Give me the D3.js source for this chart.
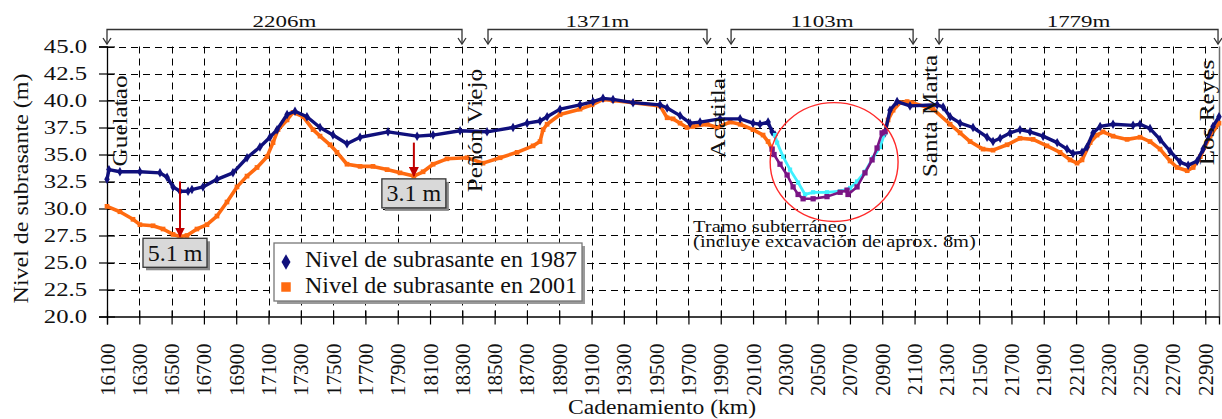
<!DOCTYPE html>
<html>
<head>
<meta charset="utf-8">
<script src="https://cdn.jsdelivr.net/npm/d3@7"></script>
<style>
  body { margin: 0; background: #fff; }
  svg { display: block; }
  text { font-family: "Liberation Serif", "Times New Roman", serif; fill: #111; }
</style>
</head>
<body>
<svg id="chart" width="1222" height="419" font-family="Liberation Serif, serif"></svg>
<script>
// ---- Nivel de subrasante, 1987 (segmentos a cielo abierto) [cadenamiento m, nivel m]
const nivel1987Oeste = [
  [16100,32.7],[16112,33.6],[16180,33.4],[16304,33.4],[16428,33.3],[16472,32.9],[16509,32.0],
  [16552,31.6],[16602,31.6],[16626,31.75],[16694,32.0],[16781,32.7],[16880,33.3],[16967,34.7],
  [17047,35.7],[17109,36.6],[17153,37.3],[17215,38.7],[17264,39.0],[17338,38.5],[17419,37.5],
  [17499,36.8],[17586,36.0],[17667,36.6],[17840,37.1],[18020,36.7],[18119,36.8],[18286,37.2],
  [18453,37.1],[18614,37.5],[18701,37.9],[18781,38.1],[18825,38.5],[18905,39.2],[19029,39.6],
  [19109,39.9],[19171,40.2],[19233,40.1],[19357,39.8],[19524,39.6],[19568,39.3],[19648,38.6],
  [19710,37.9],[19772,38.0],[19896,38.3],[20020,38.3],[20100,37.9],[20143,37.8],[20193,38.0],
  [20218,37.1],[20236,36.8]
];
const nivel1987Este = [
  [20917,37.0],[20948,39.1],[20992,39.9],[21072,39.5],[21240,39.6],[21277,39.4],[21320,38.5],
  [21382,37.9],[21462,37.5],[21549,36.6],[21586,36.2],[21630,36.5],[21691,37.0],[21753,37.3],
  [21815,37.1],[21896,36.7],[21983,36.1],[22044,35.5],[22081,35.1],[22137,35.2],[22168,35.7],
  [22205,37.0],[22249,37.6],[22329,37.8],[22453,37.7],[22496,37.8],[22558,37.4],[22620,36.4],
  [22682,35.3],[22744,34.3],[22794,34.0],[22850,34.4],[22887,35.5],[22948,37.6],[22985,38.5]
];
// ---- Nivel de subrasante, 2001
const nivel2001Oeste = [
  [16100,30.2],[16180,29.7],[16261,29.0],[16304,28.5],[16385,28.4],[16447,28.1],[16509,27.6],
  [16552,27.4],[16595,27.5],[16657,28.1],[16719,28.5],[16781,29.3],[16843,30.6],[16905,32.0],
  [16967,33.0],[17029,33.8],[17091,34.8],[17128,36.1],[17159,37.3],[17215,38.2],[17252,38.9],
  [17314,38.5],[17376,37.3],[17419,36.7],[17481,35.9],[17524,35.2],[17586,34.1],[17667,33.9],
  [17747,33.9],[17834,33.6],[17914,33.3],[18000,33.0],[18057,33.4],[18119,34.1],[18205,34.6],
  [18329,34.7],[18428,34.2],[18534,34.7],[18639,35.2],[18738,35.8],[18781,36.2],[18800,37.3],
  [18825,37.8],[18905,38.7],[19029,39.2],[19103,39.6],[19171,40.1],[19233,40.0],[19357,39.8],
  [19524,39.5],[19568,38.4],[19605,38.3],[19648,37.9],[19691,37.5],[19728,37.6],[19815,37.8],
  [19877,37.5],[19958,38.0],[20020,37.8],[20100,37.3],[20162,36.8],[20193,36.2],[20218,35.5]
];
const nivel2001Este = [
  [20917,37.1],[20936,38.2],[20967,39.1],[21010,39.8],[21054,39.9],[21085,39.8],[21215,39.2],
  [21320,37.8],[21382,37.0],[21444,36.2],[21524,35.5],[21586,35.4],[21673,35.9],[21753,36.5],
  [21834,36.4],[21920,35.8],[22001,35.2],[22063,34.5],[22106,34.2],[22137,34.5],[22187,36.1],
  [22230,36.8],[22267,37.1],[22329,36.7],[22416,36.4],[22496,36.6],[22558,36.2],[22620,35.5],
  [22682,34.4],[22726,33.8],[22788,33.5],[22825,33.8],[22869,34.8],[22930,36.7],[22985,37.9]
];
// ---- Tramo subterráneo
const tunel1987 = [
  [20236,36.8],[20249,36.1],[20286,34.8],[20329,33.6],[20379,32.4],[20422,31.3],[20472,31.5],
  [20558,31.5],[20639,31.6],[20701,31.9],[20744,32.5],[20793,33.4],[20843,34.7],[20886,35.7],
  [20917,37.0]
];
const tunel2001 = [
  [20218,35.5],[20230,35.0],[20267,34.1],[20311,33.1],[20348,32.0],[20379,31.3],[20410,30.9],
  [20472,30.9],[20558,31.1],[20639,31.5],[20682,31.7],[20688,31.3],[20744,32.0],[20793,33.3],
  [20837,34.5],[20868,35.6],[20899,37.0],[20917,37.1]
];

// ---- Ejes
const kmTicks = d3.range(16100, 22901, 200);
const nivelTicks = d3.range(20, 45.01, 2.5);

// ---- Estaciones y tramos entre ellas
const estaciones = [
  { nombre: "Guelatao",    km: 16224, nivel: 33.9 },
  { nombre: "Peñón Viejo", km: 18422, nivel: 31.5 },
  { nombre: "Acatitla",    km: 19927, nivel: 34.7 },
  { nombre: "Santa Marta", km: 21240, nivel: 32.9 },
  { nombre: "Los Reyes",   km: 22955, nivel: 34.0 }
];
const tramos = [
  { etiqueta: "2206m", desde: 16100, hasta: 18298 },
  { etiqueta: "1371m", desde: 18459, hasta: 19815 },
  { etiqueta: "1103m", desde: 19964, hasta: 21091 },
  { etiqueta: "1779m", desde: 21252, hasta: 22979 }
];
// Diferencias de nivel señaladas
const diferencias = [
  { km: 16552, base: 27.4, valor: 5.1, cajaKm: 16521, cajaNivel: 25.9 },
  { km: 18000, base: 33.0, valor: 3.1, cajaKm: 18000, cajaNivel: 31.4 }
];

const FONT = '"Liberation Serif", "Times New Roman", serif';
const svg = d3.select("#chart");
const x = d3.scaleLinear().domain([16100, 22985]).range([107, 1219]);
const y = d3.scaleLinear().domain([20, 45]).range([316.5, 46.5]);

// stretch text along its reading direction
function stretch(sel, k) {
  sel.each(function () {
    const w = this.getComputedTextLength();
    d3.select(this).attr("textLength", w * k).attr("lengthAdjust", "spacingAndGlyphs");
  });
}

// ---- Cuadrícula punteada
const grid = svg.append("g").attr("stroke", "#000").attr("stroke-width", 1)
  .attr("stroke-dasharray", "7,5").attr("fill", "none");
grid.selectAll(".h").data(nivelTicks.filter(d => d > 20)).join("line")
  .attr("x1", x.range()[0]).attr("x2", x.range()[1])
  .attr("y1", d => Math.round(y(d)) + 0.5).attr("y2", d => Math.round(y(d)) + 0.5);
grid.selectAll(".v").data(kmTicks.filter(d => d > 16100)).join("line")
  .attr("x1", d => Math.round(x(d)) + 0.5).attr("x2", d => Math.round(x(d)) + 0.5)
  .attr("y1", y(45)).attr("y2", y(20));

// borde derecho
svg.append("line").attr("x1", x.range()[1] + 0.5).attr("x2", x.range()[1] + 0.5)
  .attr("y1", y(45)).attr("y2", y(20)).attr("stroke", "#6e6e6e").attr("stroke-width", 1.5);

// ---- Eje Y
const gy = svg.append("g").attr("transform", `translate(${x.range()[0]},0)`)
  .call(d3.axisLeft(y).tickValues(nivelTicks).tickFormat(d3.format(".1f")).tickSize(8).tickPadding(12))
  .attr("font-family", FONT);
gy.select(".domain").attr("stroke", "#000").attr("stroke-width", 1.3);
gy.selectAll(".tick line").attr("x1", 8).attr("stroke", "#000").attr("stroke-width", 1.2);
gy.selectAll(".tick text").style("font-family", FONT)
  .style("font-size", "19px").attr("fill", "#111").attr("dy", "0.34em");
stretch(gy.selectAll(".tick text"), 1.3);

// ---- Eje X
const gx = svg.append("g").attr("transform", `translate(0,${y(20)})`)
  .call(d3.axisBottom(x).tickValues(kmTicks).tickFormat(d3.format("d")).tickSize(8))
  .attr("font-family", FONT);
gx.select(".domain").attr("stroke", "#000").attr("stroke-width", 1.3);
gx.selectAll(".tick line").attr("y1", -6).attr("stroke", "#000").attr("stroke-width", 1.2);
gx.selectAll(".tick text")
  .attr("y", null).attr("dy", null)
  .attr("text-anchor", "end")
  .attr("transform", "translate(7,27) rotate(-90)")
  .style("font-family", FONT).style("font-size", "21px").attr("fill", "#111");

// ---- Títulos de ejes
const yTitle = svg.append("text")
  .attr("transform", `translate(28,${(y(45) + y(20)) / 2 + 7}) rotate(-90)`)
  .attr("text-anchor", "middle").style("font-size", "20px")
  .text("Nivel de subrasante (m)");
stretch(yTitle, 1.2);
const xTitle = svg.append("text")
  .attr("x", 662).attr("y", 414).attr("text-anchor", "middle").style("font-size", "20px")
  .text("Cadenamiento (km)");
stretch(xTitle, 1.18);

// ---- Tramos entre estaciones (corchetes con flechas)
const gt = svg.append("g").attr("stroke", "#333").attr("stroke-width", 1.3).attr("fill", "none");
tramos.forEach(t => {
  const a = x(t.desde), b = x(t.hasta), yl = 29.5, yt = 44;
  gt.append("path").attr("d", `M${a},${yt}V${yl}H${b}V${yt}`);
  [a, b].forEach(p => gt.append("path").attr("d", `M${p - 4},${yt - 6}L${p},${yt}L${p + 4},${yt - 6}`));
});
const gtl = svg.selectAll(".tramo").data(tramos).join("text")
  .attr("x", d => (x(d.desde) + x(d.hasta)) / 2).attr("y", 26.5)
  .attr("text-anchor", "middle").style("font-size", "17px").text(d => d.etiqueta);
stretch(gtl, 1.35);

// ---- Series
const linea = d3.line().x(d => x(d[0])).y(d => y(d[1]));
function serie(datos, color, ancho, simbolo, tam) {
  const g = svg.append("g");
  g.append("path").datum(datos).attr("d", linea).attr("fill", "none")
    .attr("stroke", color).attr("stroke-width", ancho).attr("stroke-linejoin", "round");
  g.selectAll("path.m").data(datos).join("path").attr("class", "m")
    .attr("transform", d => `translate(${x(d[0])},${y(d[1])})`)
    .attr("d", d3.symbol(simbolo, tam)).attr("fill", color);
}
serie(nivel2001Oeste, "#ff6a10", 3.6, d3.symbolSquare, 22);
serie(nivel2001Este, "#ff6a10", 3.6, d3.symbolSquare, 22);
serie(nivel1987Oeste, "#10107c", 3.4, d3.symbolDiamond, 26);
serie(nivel1987Este, "#10107c", 3.4, d3.symbolDiamond, 26);
serie(tunel1987, "#3ff0ff", 2.8, d3.symbolSquare, 18);
serie(tunel2001, "#7a1585", 2.6, d3.symbolSquare, 28);

// ---- Tramo subterráneo (elipse roja y texto)
const cx = x(20602), cy = y(34.3);
svg.append("ellipse").attr("cx", cx).attr("cy", cy)
  .attr("rx", x(20602 + 396) - cx).attr("ry", y(34.3 - 5.5) - cy)
  .attr("fill", "none").attr("stroke", "#ff2a2a").attr("stroke-width", 1.4);
const nota = svg.append("text").attr("x", x(19729)).attr("y", y(27.8)).style("font-size", "17px");
nota.append("tspan").attr("x", x(19729)).text("Tramo subterráneo");
nota.append("tspan").attr("x", x(19729)).attr("dy", 15).text("(incluye excavación de aprox. 8m)");
stretch(nota.selectAll("tspan"), 1.2);

// ---- Nombres de estaciones
const est = svg.selectAll(".est").data(estaciones).join("text")
  .attr("transform", d => `translate(${x(d.km)},${y(d.nivel)}) rotate(-90)`)
  .style("font-size", "21px").text(d => d.nombre);
stretch(est, 1.2);

// ---- Flechas de diferencia de nivel
const defs = svg.append("defs");
defs.append("marker").attr("id", "punta").attr("viewBox", "0 0 10 10")
  .attr("refX", 9).attr("refY", 5).attr("markerWidth", 5).attr("markerHeight", 5)
  .attr("orient", "auto").attr("markerUnits", "strokeWidth")
  .append("path").attr("d", "M0,0L10,5L0,10Z").attr("fill", "#c00000");
diferencias.forEach(d => {
  svg.append("line").attr("x1", x(d.km)).attr("x2", x(d.km))
    .attr("y1", y(d.base + d.valor)).attr("y2", y(d.base))
    .attr("stroke", "#c00000").attr("stroke-width", 2).attr("marker-end", "url(#punta)");
  const bx = x(d.cajaKm), by = y(d.cajaNivel), w = 64, h = 29;
  svg.append("rect").attr("x", bx - w / 2 + 3).attr("y", by - h / 2 + 3).attr("width", w).attr("height", h)
    .attr("fill", "#8a8a8a");
  svg.append("rect").attr("x", bx - w / 2).attr("y", by - h / 2).attr("width", w).attr("height", h)
    .attr("fill", "#d9d9d9").attr("stroke", "#333").attr("stroke-width", 1.3);
  svg.append("text").attr("x", bx).attr("y", by + 8).attr("text-anchor", "middle")
    .style("font-size", "24px").text(`${d.valor.toFixed(1)} m`);
});

// ---- Leyenda
const leyenda = [
  { texto: "Nivel de subrasante en 1987", color: "#10107c", simbolo: d3.symbolDiamond, tam: 70 },
  { texto: "Nivel de subrasante en 2001", color: "#ff6a10", simbolo: d3.symbolSquare, tam: 90 }
];
const lg = svg.append("g").attr("transform", "translate(274,243)");
lg.append("rect").attr("x", 3).attr("y", 3).attr("width", 308).attr("height", 58).attr("fill", "#9a9a9a");
lg.append("rect").attr("width", 308).attr("height", 58).attr("fill", "#fff")
  .attr("stroke", "#777").attr("stroke-width", 1.3);
leyenda.forEach((l, i) => {
  lg.append("path").attr("transform", `translate(12,${19 + i * 25})`)
    .attr("d", d3.symbol(l.simbolo, l.tam)).attr("fill", l.color);
  lg.append("text").attr("x", 31).attr("y", 24 + i * 26).style("font-size", "24px").text(l.texto);
});
</script>
</body>
</html>
